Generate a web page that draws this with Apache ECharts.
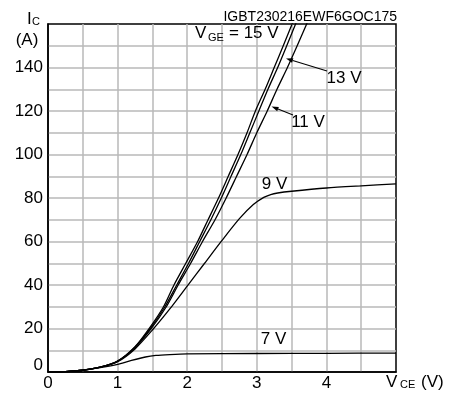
<!DOCTYPE html>
<html>
<head>
<meta charset="utf-8">
<script src="https://cdn.jsdelivr.net/npm/echarts@6/dist/echarts.min.js"></script>
<style>
  html, body { margin: 0; padding: 0; background: #fff; }
  #chart { width: 452px; height: 394px; }
</style>
</head>
<body>
<div id="chart"></div>
<script>
// Output characteristic: collector current vs. collector-emitter voltage
const xTickLabels = [0, 1, 2, 3, 4];
const yTickLabels = [0, 20, 40, 60, 80, 100, 120, 140];

// [V_CE (V), I_C (A)] per gate voltage
const curveVge15 = [[0,0],[0.25,0.2],[0.5,0.8],[0.75,2.2],[1.0,5.0],[1.25,11.6],[1.46,20.3],[1.66,30],[1.81,40],[1.98,50],[2.15,60],[2.30,70],[2.45,80],[2.59,90],[2.73,100],[2.86,110],[2.98,120],[3.12,130],[3.25,140],[3.38,150],[3.52,161]];
const curveVge13 = [[0,0],[0.25,0.2],[0.5,0.8],[0.75,2.2],[1.0,5.0],[1.25,11.4],[1.47,20],[1.68,30],[1.85,40],[2.02,50],[2.18,60],[2.34,70],[2.49,80],[2.63,90],[2.77,100],[2.90,110],[3.03,120],[3.16,130],[3.30,140],[3.43,150],[3.57,161]];
const curveVge11 = [[0,0],[0.25,0.2],[0.5,0.8],[0.75,2.2],[1.0,4.9],[1.25,11.2],[1.48,19.8],[1.70,30],[1.87,40],[2.05,50],[2.22,60],[2.40,70],[2.56,80],[2.71,90],[2.86,100],[3.00,110],[3.15,120],[3.29,130],[3.44,140],[3.58,150],[3.73,161]];
const curveVge9  = [[0,0],[0.25,0.2],[0.5,0.8],[0.75,2.2],[1.0,4.7],[1.25,10.6],[1.5,19.3],[1.75,29],[2.0,39.5],[2.25,50],[2.5,60.5],[2.75,70.5],[2.95,77],[3.1,80.3],[3.2,81.6],[3.3,82.3],[3.5,83.1],[4.0,84.6],[4.5,85.6],[5.0,86.5]];
const curveVge7  = [[0,0],[0.25,0.2],[0.5,0.8],[0.75,2.0],[0.9,2.8],[1.0,3.5],[1.2,5.3],[1.4,6.9],[1.55,7.6],[1.75,8.0],[2.0,8.3],[3.0,8.5],[4.0,8.6],[5.0,8.7]];

const FONT = '"Liberation Sans", Arial, sans-serif';
const chart = echarts.init(document.getElementById('chart'), null, { renderer: 'canvas' });

function curve(name, data) {
  return {
    name, type: 'line', data, showSymbol: false, smooth: 0.25,
    clip: true, silent: true,
    lineStyle: { color: '#000', width: 1.3 }
  };
}

function txt(text, x, y, size, align) {
  return {
    type: 'text', x, y, silent: true, z: 10,
    style: { text, fontSize: size, fontFamily: FONT, fill: '#000', align: align || 'left', verticalAlign: 'middle' }
  };
}

function arrow(x1, y1, x2, y2) {
  const a = Math.atan2(y2 - y1, x2 - x1), L = 7, W = 2.3;
  const bx = x2 - L * Math.cos(a), by = y2 - L * Math.sin(a);
  const nx = -Math.sin(a) * W, ny = Math.cos(a) * W;
  return [
    { type: 'line', silent: true, z: 10, shape: { x1, y1, x2: bx, y2: by }, style: { stroke: '#000', lineWidth: 1.1 } },
    { type: 'polygon', silent: true, z: 10, shape: { points: [[x2, y2], [bx + nx, by + ny], [bx - nx, by - ny]] }, style: { fill: '#000' } }
  ];
}

chart.setOption({
  animation: false,
  backgroundColor: '#fff',
  grid: { left: 48, right: 56, top: 24, bottom: 22, show: true, borderColor: '#000', borderWidth: 1.5, backgroundColor: 'transparent' },
  xAxis: {
    type: 'value', min: 0, max: 5, interval: 0.5,
    axisLine: { show: true, lineStyle: { color: '#000', width: 1.5 } },
    axisTick: { show: false },
    splitLine: { show: true, showMinLine: false, showMaxLine: false, lineStyle: { color: '#b8b8b8', width: 1.5 } },
    axisLabel: {
      margin: 3, color: '#000', fontSize: 17, fontFamily: FONT,
      formatter: v => xTickLabels.includes(v) ? String(v) : ''
    }
  },
  yAxis: {
    type: 'value', min: 0, max: 160, interval: 10,
    axisLine: { show: true, lineStyle: { color: '#000', width: 1.5 } },
    axisTick: { show: false },
    splitLine: { show: true, showMinLine: false, showMaxLine: false, lineStyle: { color: '#b8b8b8', width: 1.5 } },
    axisLabel: {
      margin: 5, color: '#000', fontSize: 17, fontFamily: FONT,
      formatter: v => yTickLabels.includes(v) ? (v === 0 ? '{z|0}' : String(v)) : '',
      rich: { z: { fontSize: 17, fontFamily: FONT, color: '#000', padding: [0, 0, 13, 0] } }
    }
  },
  series: [
    curve('15 V', curveVge15),
    curve('13 V', curveVge13),
    curve('11 V', curveVge11),
    curve('9 V', curveVge9),
    curve('7 V', curveVge7)
  ],
  graphic: [
    txt('I', 27, 19, 17),
    txt('C', 32, 22, 11),
    txt('(A)', 27, 40, 17, 'center'),
    txt('V', 386, 382, 17),
    txt('CE', 400, 385, 11),
    txt('(V)', 421, 382, 17),
    txt('IGBT230216EWF6GOC175', 397, 17, 14, 'right'),
    txt('V', 195, 33, 17),
    txt('GE', 208, 37.5, 11),
    txt('= 15 V', 229, 33, 17),
    txt('13 V', 344, 78, 17, 'center'),
    txt('11 V', 308, 122, 17, 'center'),
    txt('9 V', 274.5, 184, 17, 'center'),
    txt('7 V', 273.5, 339, 17, 'center'),
    ...arrow(327, 71, 286, 58.5),
    ...arrow(293, 115, 271.5, 106.5)
  ]
});
</script>
</body>
</html>
